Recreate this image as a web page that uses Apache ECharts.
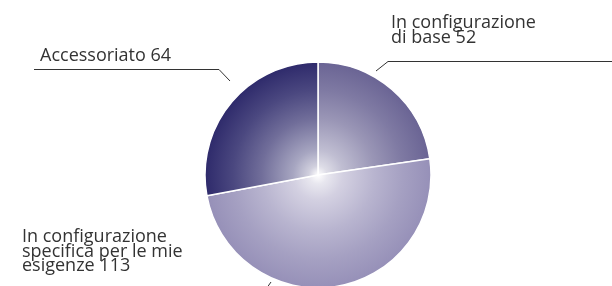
<!DOCTYPE html>
<html>
<head>
<meta charset="utf-8">
<script src="https://cdn.jsdelivr.net/npm/echarts@6/dist/echarts.min.js"></script>
<style>
  html, body { margin: 0; padding: 0; background: #fff; }
  #chart { width: 612px; height: 286px; }
</style>
</head>
<body>
<div id="chart"></div>
<script>
// slices, clockwise from 12 o'clock
const names = ['In configurazione\ndi base', 'In configurazione\nspecifica per le mie\nesigenze', 'Accessoriato'];
const values = [52, 113, 64];
const edgeColors = ['#6a6494', '#9690b8', '#2e2a6b'];

const cx = 318, cy = 175, R = 113;

// white centre fading to the slice colour, quick at first
function mix(hex, t) {
  const n = parseInt(hex.slice(1), 16);
  const r = n >> 16, g = (n >> 8) & 255, b = n & 255;
  const f = c => Math.round(255 + (c - 255) * t);
  return 'rgb(' + f(r) + ',' + f(g) + ',' + f(b) + ')';
}
function fill(hex) {
  const stops = [[0, 0], [0.08, 0.22], [0.22, 0.42], [0.5, 0.68], [0.75, 0.86], [1, 1]];
  return new echarts.graphic.RadialGradient(cx, cy, R,
    stops.map(s => ({ offset: s[0], color: mix(hex, s[1]) })), true);
}

// where each label sits and how its leader runs
const labelSpots = [
  { x: 391, y: 16, points: [[376, 71], [388, 61.5], [612, 61.5]] },
  { x: 22, y: 230, points: [[271, 282], [264, 292], [264, 300]] },
  { x: 40, y: 48.5, points: [[230, 81], [219, 69.5], [34, 69.5]] }
];

const chart = echarts.init(document.getElementById('chart'));
chart.setOption({
  animation: false,
  series: [{
    type: 'pie',
    center: [cx, cy],
    radius: [0, R],
    startAngle: 90,
    clockwise: true,
    avoidLabelOverlap: false,
    data: names.map((n, i) => ({
      name: n,
      value: values[i],
      itemStyle: { color: fill(edgeColors[i]) }
    })),
    itemStyle: { borderColor: '#fff', borderWidth: 1.5 },
    label: {
      show: true,
      position: 'outside',
      formatter: p => p.name + ' ' + p.value,
      color: '#333',
      fontFamily: 'Open Sans',
      fontSize: 18,
      lineHeight: 14.5
    },
    labelLine: { show: true, lineStyle: { color: '#333', width: 1 } },
    labelLayout: p => {
      const s = labelSpots[p.dataIndex];
      return { x: s.x, y: s.y, align: 'left', verticalAlign: 'top', labelLinePoints: s.points };
    },
    emphasis: { disabled: true }
  }]
});
</script>
</body>
</html>
